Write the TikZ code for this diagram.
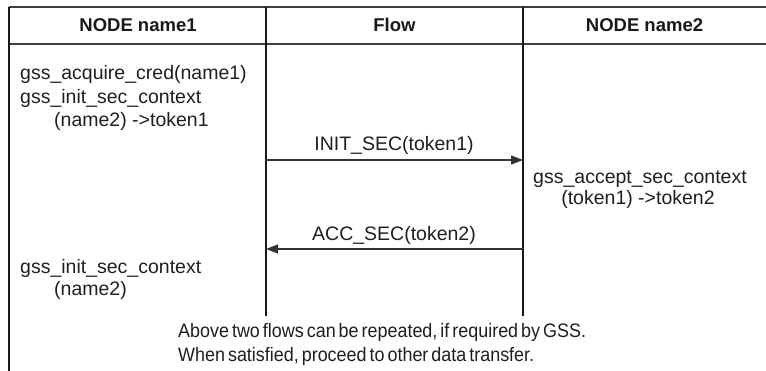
\documentclass[tikz,border=0pt]{standalone}
\usepackage{fontspec}
\setmainfont{Liberation Sans}
\newfontfamily\notefont[FakeStretch=0.92,WordSpace=0.6]{Liberation Sans}
\usetikzlibrary{arrows.meta}
\begin{document}
\begin{tikzpicture}[x=1pt,y=-1pt,
  txt/.style={font=\fontsize{19.5}{22}\selectfont, inner sep=0pt, text=black!88},
  note/.style={font=\notefont\fontsize{19.5}{22}\selectfont, inner sep=0pt, text=black!88},
  hdr/.style={font=\fontsize{18.5}{22}\selectfont\bfseries, inner sep=0pt, text=black!90},
  rule/.style={line width=1.2pt, draw=black!75},
  life/.style={line width=1.3pt, draw=black!90},
  msg/.style={line width=1.2pt, draw=black!80, -{Triangle[length=12pt,width=9pt]}}]
\useasboundingbox (0,0) rectangle (766,371);
% frame
\coordinate (tl) at (9,7);
\coordinate (tr) at (766,7);
\coordinate (hl) at (9,44);
\coordinate (hr) at (766,44);
\coordinate (bl) at (9,371);
\coordinate (l1t) at (266,7);
\coordinate (l1b) at (266,316);
\coordinate (l2t) at (523,7);
\coordinate (l2b) at (523,316);
\draw[rule] (tl) -- (tr);
\draw[rule] (hl) -- (hr);
\draw[life] (tl) -- (bl);
\draw[life] (l1t) -- (l1b);
\draw[life] (l2t) -- (l2b);
% headers
\node[hdr] (h1) at (138,25) {NODE name1};
\node[hdr] (h2) at (394.5,25) {Flow};
\node[hdr] (h3) at (644.5,25) {NODE name2};
% left column
\node[txt, anchor=base west] (c1) at (20,80) {gss\_acquire\_cred(name1)};
\node[txt, anchor=base west] (c2) at (20,104) {gss\_init\_sec\_context};
\node[txt, anchor=base west] (c3) at (54,127) {(name2) ->token1};
\node[txt, anchor=base west] (c4) at (20,274) {gss\_init\_sec\_context};
\node[txt, anchor=base west] (c5) at (54,296) {(name2)};
% right column
\node[txt, anchor=base] (r1) at (640,184) {gss\_accept\_sec\_context};
\node[txt, anchor=base] (r2) at (638,205) {(token1) ->token2};
% messages
\coordinate (a1s) at (266,160);
\coordinate (a1e) at (523,160);
\coordinate (a2s) at (523,249);
\coordinate (a2e) at (266,249);
\draw[msg] (a1s) -- (a1e);
\draw[msg] (a2s) -- (a2e);
\node[txt, anchor=base] (m1) at (394,151) {INIT\_SEC(token1)};
\node[txt, anchor=base] (m2) at (394,241) {ACC\_SEC(token2)};
% bottom note
\node[note, anchor=base west] (n1) at (178,338) {Above two flows can be repeated, if required by GSS.};
\node[note, anchor=base west] (n2) at (178,362) {When satisfied, proceed to other data transfer.};
\end{tikzpicture}
\end{document}
